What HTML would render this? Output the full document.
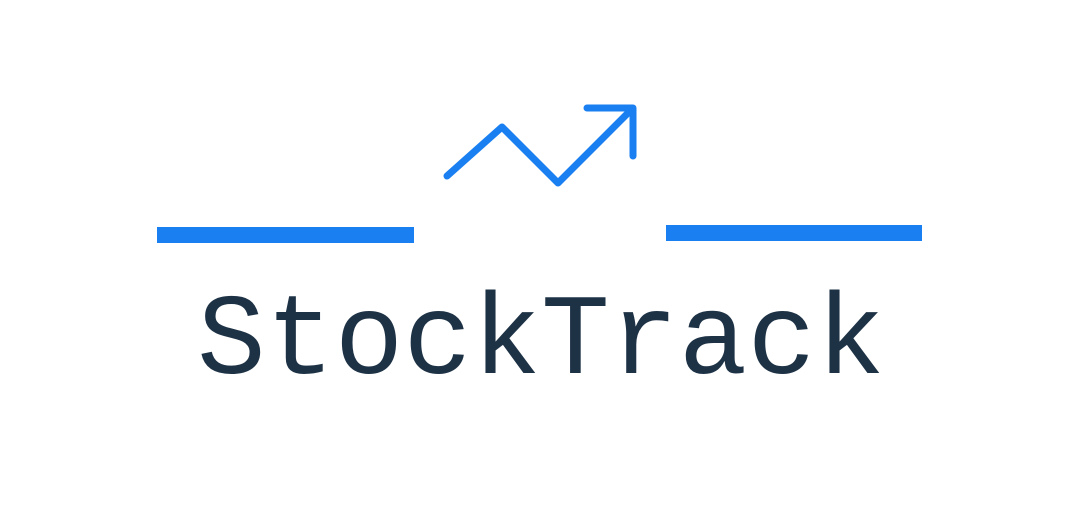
<!DOCTYPE html>
<html>
<head>
<meta charset="utf-8">
<style>
  html,body{margin:0;padding:0;background:#ffffff;}
  body{width:1080px;height:507px;overflow:hidden;}
  svg{display:block;}
</style>
</head>
<body>
<svg width="1080" height="507" viewBox="0 0 1080 507">
  <rect x="157" y="227" width="257" height="16" fill="#1a7ff0"/>
  <rect x="666" y="225" width="256" height="16" fill="#1a7ff0"/>
  <polyline points="447,176 502,127 558,183 632,109" fill="none" stroke="#1a7ff0" stroke-width="7" stroke-linecap="round" stroke-linejoin="round"/>
  <polyline points="587,108 633,108 633,156" fill="none" stroke="#1a7ff0" stroke-width="7" stroke-linecap="round" stroke-linejoin="round"/>
  <text x="541" y="373" text-anchor="middle" font-family="'Liberation Mono', 'DejaVu Sans Mono', monospace" font-size="115" fill="#1e3246" textLength="688" lengthAdjust="spacingAndGlyphs">StockTrack</text>
</svg>
</body>
</html>
